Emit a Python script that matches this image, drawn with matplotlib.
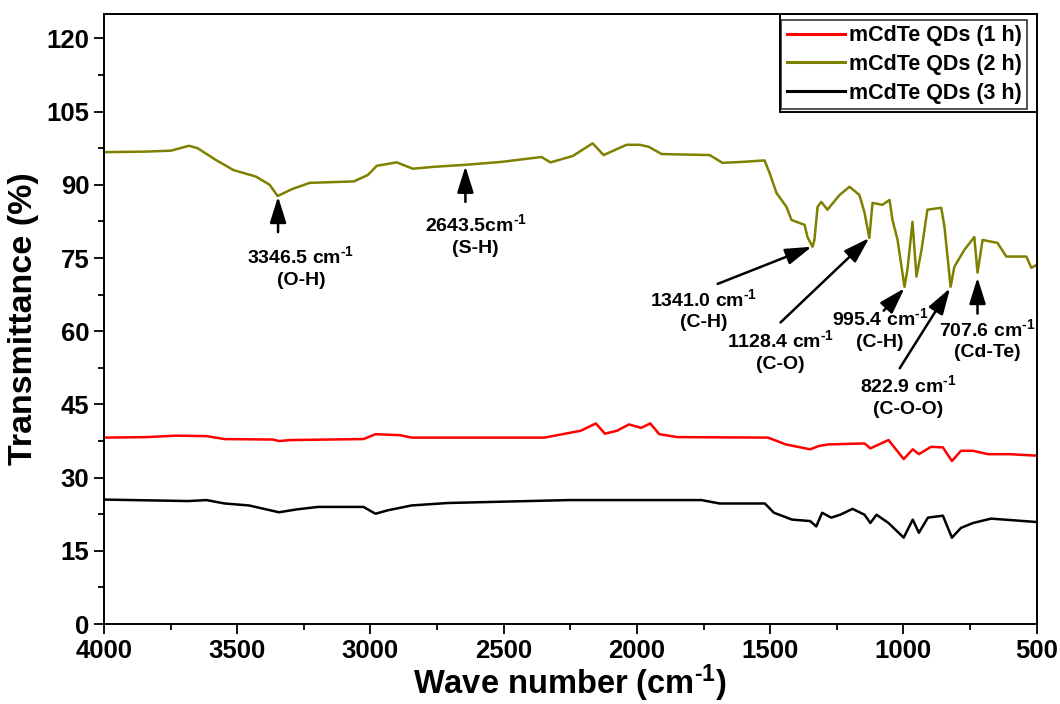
import matplotlib
matplotlib.use('Agg')
import matplotlib.pyplot as plt
from matplotlib.patches import Rectangle
from matplotlib.ticker import MultipleLocator

# FTIR spectra
wn_1h = [4000, 3841, 3728, 3615, 3547, 3366, 3343, 3298, 3026, 2981, 2890, 2845,
         2347, 2279, 2211, 2154, 2120, 2075, 2030, 1984, 1950, 1916, 1848, 1508,
         1441, 1350, 1316, 1282, 1146, 1124, 1056, 999, 965, 942, 897, 852, 818,
         784, 739, 682, 602, 500]
t_1h = [38.2, 38.3, 38.6, 38.5, 37.9, 37.8, 37.5, 37.7, 37.9, 38.9, 38.7, 38.2,
        38.2, 38.9, 39.6, 41.1, 39.0, 39.6, 40.9, 40.2, 41.1, 38.9, 38.3, 38.2,
        36.8, 35.8, 36.5, 36.8, 37.0, 36.0, 37.7, 33.8, 35.8, 34.8, 36.3, 36.2, 33.4,
        35.5, 35.5, 34.8, 34.8, 34.5]

wn_2h = [4000, 3846, 3748, 3681, 3648, 3580, 3513, 3430, 3378, 3348, 3295, 3228,
         3062, 3010, 2976, 2901, 2841, 2759, 2643, 2508, 2358, 2324, 2241, 2166,
         2125, 2039, 1990, 1956, 1907, 1727, 1679, 1604, 1521, 1502, 1476, 1439,
         1420, 1371, 1360, 1341, 1334, 1322, 1308, 1285, 1240, 1202, 1165, 1146,
         1128, 1116, 1079, 1052, 1041, 1022, 996, 985, 966, 951, 932, 910, 858,
         846, 823, 809, 771, 734, 722, 703, 647, 614, 539, 520, 500]
t_2h = [96.7, 96.8, 97.0, 98.0, 97.5, 95.1, 93.0, 91.7, 90.0, 87.7, 89.1, 90.4,
        90.7, 92.0, 93.9, 94.6, 93.3, 93.7, 94.1, 94.7, 95.7, 94.6, 95.9, 98.5,
        96.1, 98.2, 98.2, 97.8, 96.3, 96.1, 94.5, 94.7, 95.0, 92.4, 88.3, 85.5,
        82.8, 81.8, 79.3, 77.3, 78.7, 85.5, 86.5, 84.9, 87.9, 89.6, 87.9, 84.3,
        79.1, 86.3, 85.9, 86.9, 82.8, 78.7, 69.1, 72.6, 82.4, 71.2, 76.7, 84.9, 85.3,
        81.4, 69.1, 73.2, 76.7, 79.3, 72.0, 78.7, 78.1, 75.3, 75.3, 73.0, 73.6]

wn_3h = [4000, 3683, 3615, 3547, 3456, 3343, 3275, 3196, 3026, 2981, 2935, 2845,
         2709, 2256, 1758, 1690, 1520, 1486, 1418, 1350, 1327, 1305, 1271, 1237,
         1191, 1146, 1124, 1101, 1056, 999, 965, 942, 908, 852, 818, 784, 739,
         671, 500]
t_3h = [25.5, 25.2, 25.4, 24.7, 24.3, 22.9, 23.5, 24.0, 24.0, 22.6, 23.3, 24.3,
        24.8, 25.4, 25.4, 24.7, 24.7, 22.8, 21.4, 21.1, 20.0, 22.8, 21.8, 22.4,
        23.6, 22.4, 20.7, 22.4, 20.7, 17.7, 21.4, 18.7, 21.8, 22.2, 17.7, 19.7, 20.7,
        21.6, 20.9]

series_names = ['mCdTe QDs (1 h)', 'mCdTe QDs (2 h)', 'mCdTe QDs (3 h)']

# superscript "-1" with a plain hyphen
inv = r'$^{\text{-1}}$'

# peak labels: text, text position, arrow tail, arrow tip
peak_labels = ['3346.5 cm' + inv + '\n(O-H)', '2643.5cm' + inv + '\n(S-H)',
               '1341.0 cm' + inv + '\n(C-H)', '1128.4 cm' + inv + '\n(C-O)',
               '995.4 cm' + inv + '\n(C-H)', '822.9 cm' + inv + '\n(C-O-O)',
               '707.6 cm' + inv + '\n(Cd-Te)']
label_xy = [(3261, 73.1), (2605, 79.7), (1749, 64.4), (1461, 55.9),
            (1089, 60.4), (984, 46.7), (684, 58.3)]
arrow_tail = [(3346.5, 80.3), (2643.5, 86.5), (1697, 69.7), (1461, 61.8),
              (1074, 64.2), (1014, 52.4), (722, 63.6)]
arrow_tip = [(3346.5, 87.6), (2643.5, 93.8), (1344, 77.3), (1128, 79.1),
             (996, 68.8), (825, 68.8), (722, 71.0)]

plt.rcParams['font.family'] = 'Liberation Sans'
plt.rcParams['font.weight'] = 'bold'
plt.rcParams['axes.labelweight'] = 'bold'
plt.rcParams['axes.unicode_minus'] = False
plt.rcParams['mathtext.fontset'] = 'custom'
plt.rcParams['mathtext.rm'] = 'Liberation Sans:bold'
plt.rcParams['mathtext.it'] = 'Liberation Sans:bold'
plt.rcParams['mathtext.bf'] = 'Liberation Sans:bold'
plt.rcParams['mathtext.default'] = 'regular'

fig = plt.figure(figsize=(10.6, 7.04), dpi=100)
ax = fig.add_axes([0.098, 0.1136, 0.880, 0.8665])

ax.plot(wn_1h, t_1h, color='#ff0000', lw=1.8, label=series_names[0])
ax.plot(wn_2h, t_2h, color='#808000', lw=1.8, label=series_names[1])
ax.plot(wn_3h, t_3h, color='black', lw=1.8, label=series_names[2])

ax.set_xlim(4000, 500)
ax.set_ylim(0, 125)
ax.xaxis.set_major_locator(MultipleLocator(500))
ax.xaxis.set_minor_locator(MultipleLocator(250))
ax.yaxis.set_major_locator(MultipleLocator(15))
ax.yaxis.set_minor_locator(MultipleLocator(7.5))
ax.tick_params(which='both', direction='out', width=1.3, labelsize=18.5)
ax.tick_params(which='major', length=7)
ax.tick_params(which='minor', length=4)
for sp in ax.spines.values():
    sp.set_linewidth(1.4)

ax.set_xlabel('Wave number (cm' + inv + ')', fontsize=23.5, labelpad=0)
ax.set_ylabel('Transmittance (%)', fontsize=24.5, labelpad=5)

for lab, txy, tail, tip in zip(peak_labels, label_xy, arrow_tail, arrow_tip):
    ax.annotate('', xy=tip, xytext=tail,
                arrowprops=dict(arrowstyle='-|>,head_length=0.8,head_width=0.25',
                                mutation_scale=20, color='black', lw=1.8,
                                shrinkA=0, shrinkB=0))
    ax.text(txy[0], txy[1], lab, fontsize=14, ha='center', va='center',
            linespacing=1.35)

leg = ax.legend(loc='upper right', bbox_to_anchor=(0.990, 0.990), fontsize=15.5,
                frameon=True, fancybox=False, borderpad=0.25, labelspacing=0.35,
                handlelength=2.7, handletextpad=0.2, borderaxespad=0)
leg.get_frame().set_edgecolor('black')
leg.get_frame().set_linewidth(1.2)
for ln in leg.get_lines():
    ln.set_linewidth(2.2)
ax.add_patch(Rectangle((0.7245, 0.840), 0.2755, 0.160, transform=ax.transAxes,
                       fill=False, edgecolor='black', lw=1.4, zorder=4))

fig.savefig('out.png', dpi=100)
